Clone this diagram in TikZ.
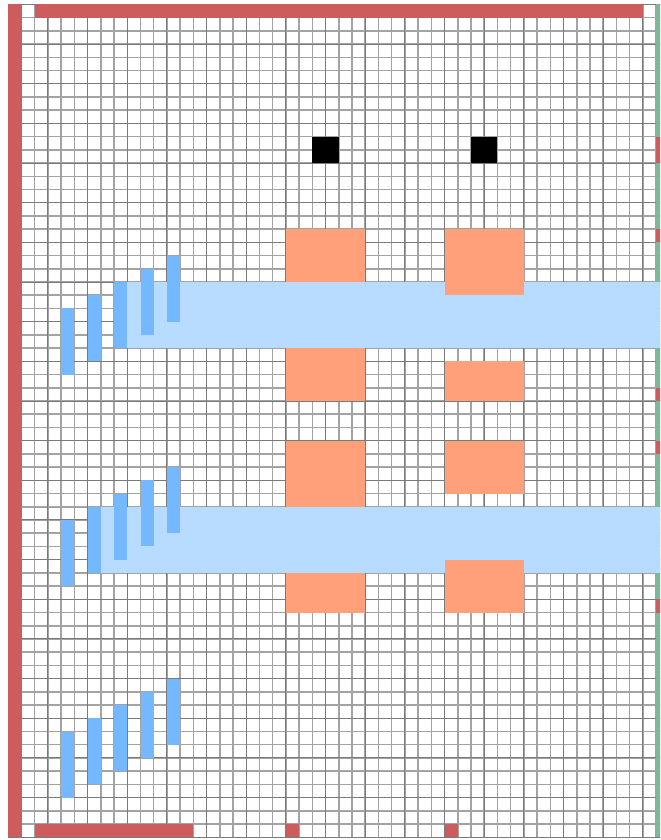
\documentclass[tikz,border=0pt]{standalone}
\definecolor{wallred}{HTML}{CD5C5C}
\definecolor{salmon}{HTML}{FFA07A}
\definecolor{skyblue}{HTML}{74B9FF}
\definecolor{paleblue}{HTML}{B8DCFF}
\definecolor{sagegreen}{HTML}{7DB998}
\tikzset{
  gridlight/.style={draw=black!36,line width=1.5pt},
  griddark/.style={draw=black!52,line width=1pt},
  wall/.style={fill=wallred},
  edgecell/.style={fill=sagegreen},
  room/.style={fill=salmon},
  pillar/.style={fill=black},
  bar/.style={fill=skyblue},
  band/.style={fill=paleblue}
}
\newcommand{\cells}[5]{\fill[#1] (#2,#3) rectangle (#4,#5);}
\begin{document}
\begin{tikzpicture}[x=13.22pt,y=-13.22pt]
\useasboundingbox (-0.6278,-0.3329) rectangle (49.297,63.207);
\clip (-0.6278,-0.3329) rectangle (49.297,63.207);
\fill[white] (-0.6278,-0.3329) rectangle (49.297,63.207);
\foreach \i in {0,...,50} \draw[gridlight] (\i,0) -- (\i,63);
\foreach \j in {0,...,63} \draw[gridlight] (0,\j) -- (50,\j);
\foreach \i in {0,3,...,48} \draw[griddark] (\i,0) -- (\i,63);
\foreach \j in {0,3,...,63} \draw[griddark] (0,\j) -- (50,\j);
% walls
\cells{wall}{0}{0}{1}{63}
\cells{wall}{2}{0}{48}{1}
\cells{wall}{2}{62}{14}{63}
\cells{wall}{21}{62}{22}{63}
\cells{wall}{33}{62}{34}{63}
% right edge
\cells{edgecell}{49}{0}{50}{63}
\cells{wall}{49}{10}{50}{12}
\cells{wall}{49}{17}{50}{18}
\cells{wall}{49}{29}{50}{30}
\cells{wall}{49}{33}{50}{34}
\cells{wall}{49}{45}{50}{46}
% bands
\cells{band}{8}{21}{50}{26}
\cells{band}{6}{38}{50}{43}
% rooms
\cells{room}{21}{17}{27}{21}
\cells{room}{33}{17}{39}{22}
\cells{room}{21}{26}{27}{30}
\cells{room}{33}{27}{39}{30}
\cells{room}{21}{33}{27}{38}
\cells{room}{33}{33}{39}{37}
\cells{room}{21}{43}{27}{46}
\cells{room}{33}{42}{39}{46}
% pillars
\cells{pillar}{23}{10}{25}{12}
\cells{pillar}{35}{10}{37}{12}
% bars
\foreach \t in {0,16,32}{
  \cells{bar}{4}{23+\t}{5}{28+\t}
  \cells{bar}{6}{22+\t}{7}{27+\t}
  \cells{bar}{8}{21+\t}{9}{26+\t}
  \cells{bar}{10}{20+\t}{11}{25+\t}
  \cells{bar}{12}{19+\t}{13}{24+\t}
}
\end{tikzpicture}
\end{document}
